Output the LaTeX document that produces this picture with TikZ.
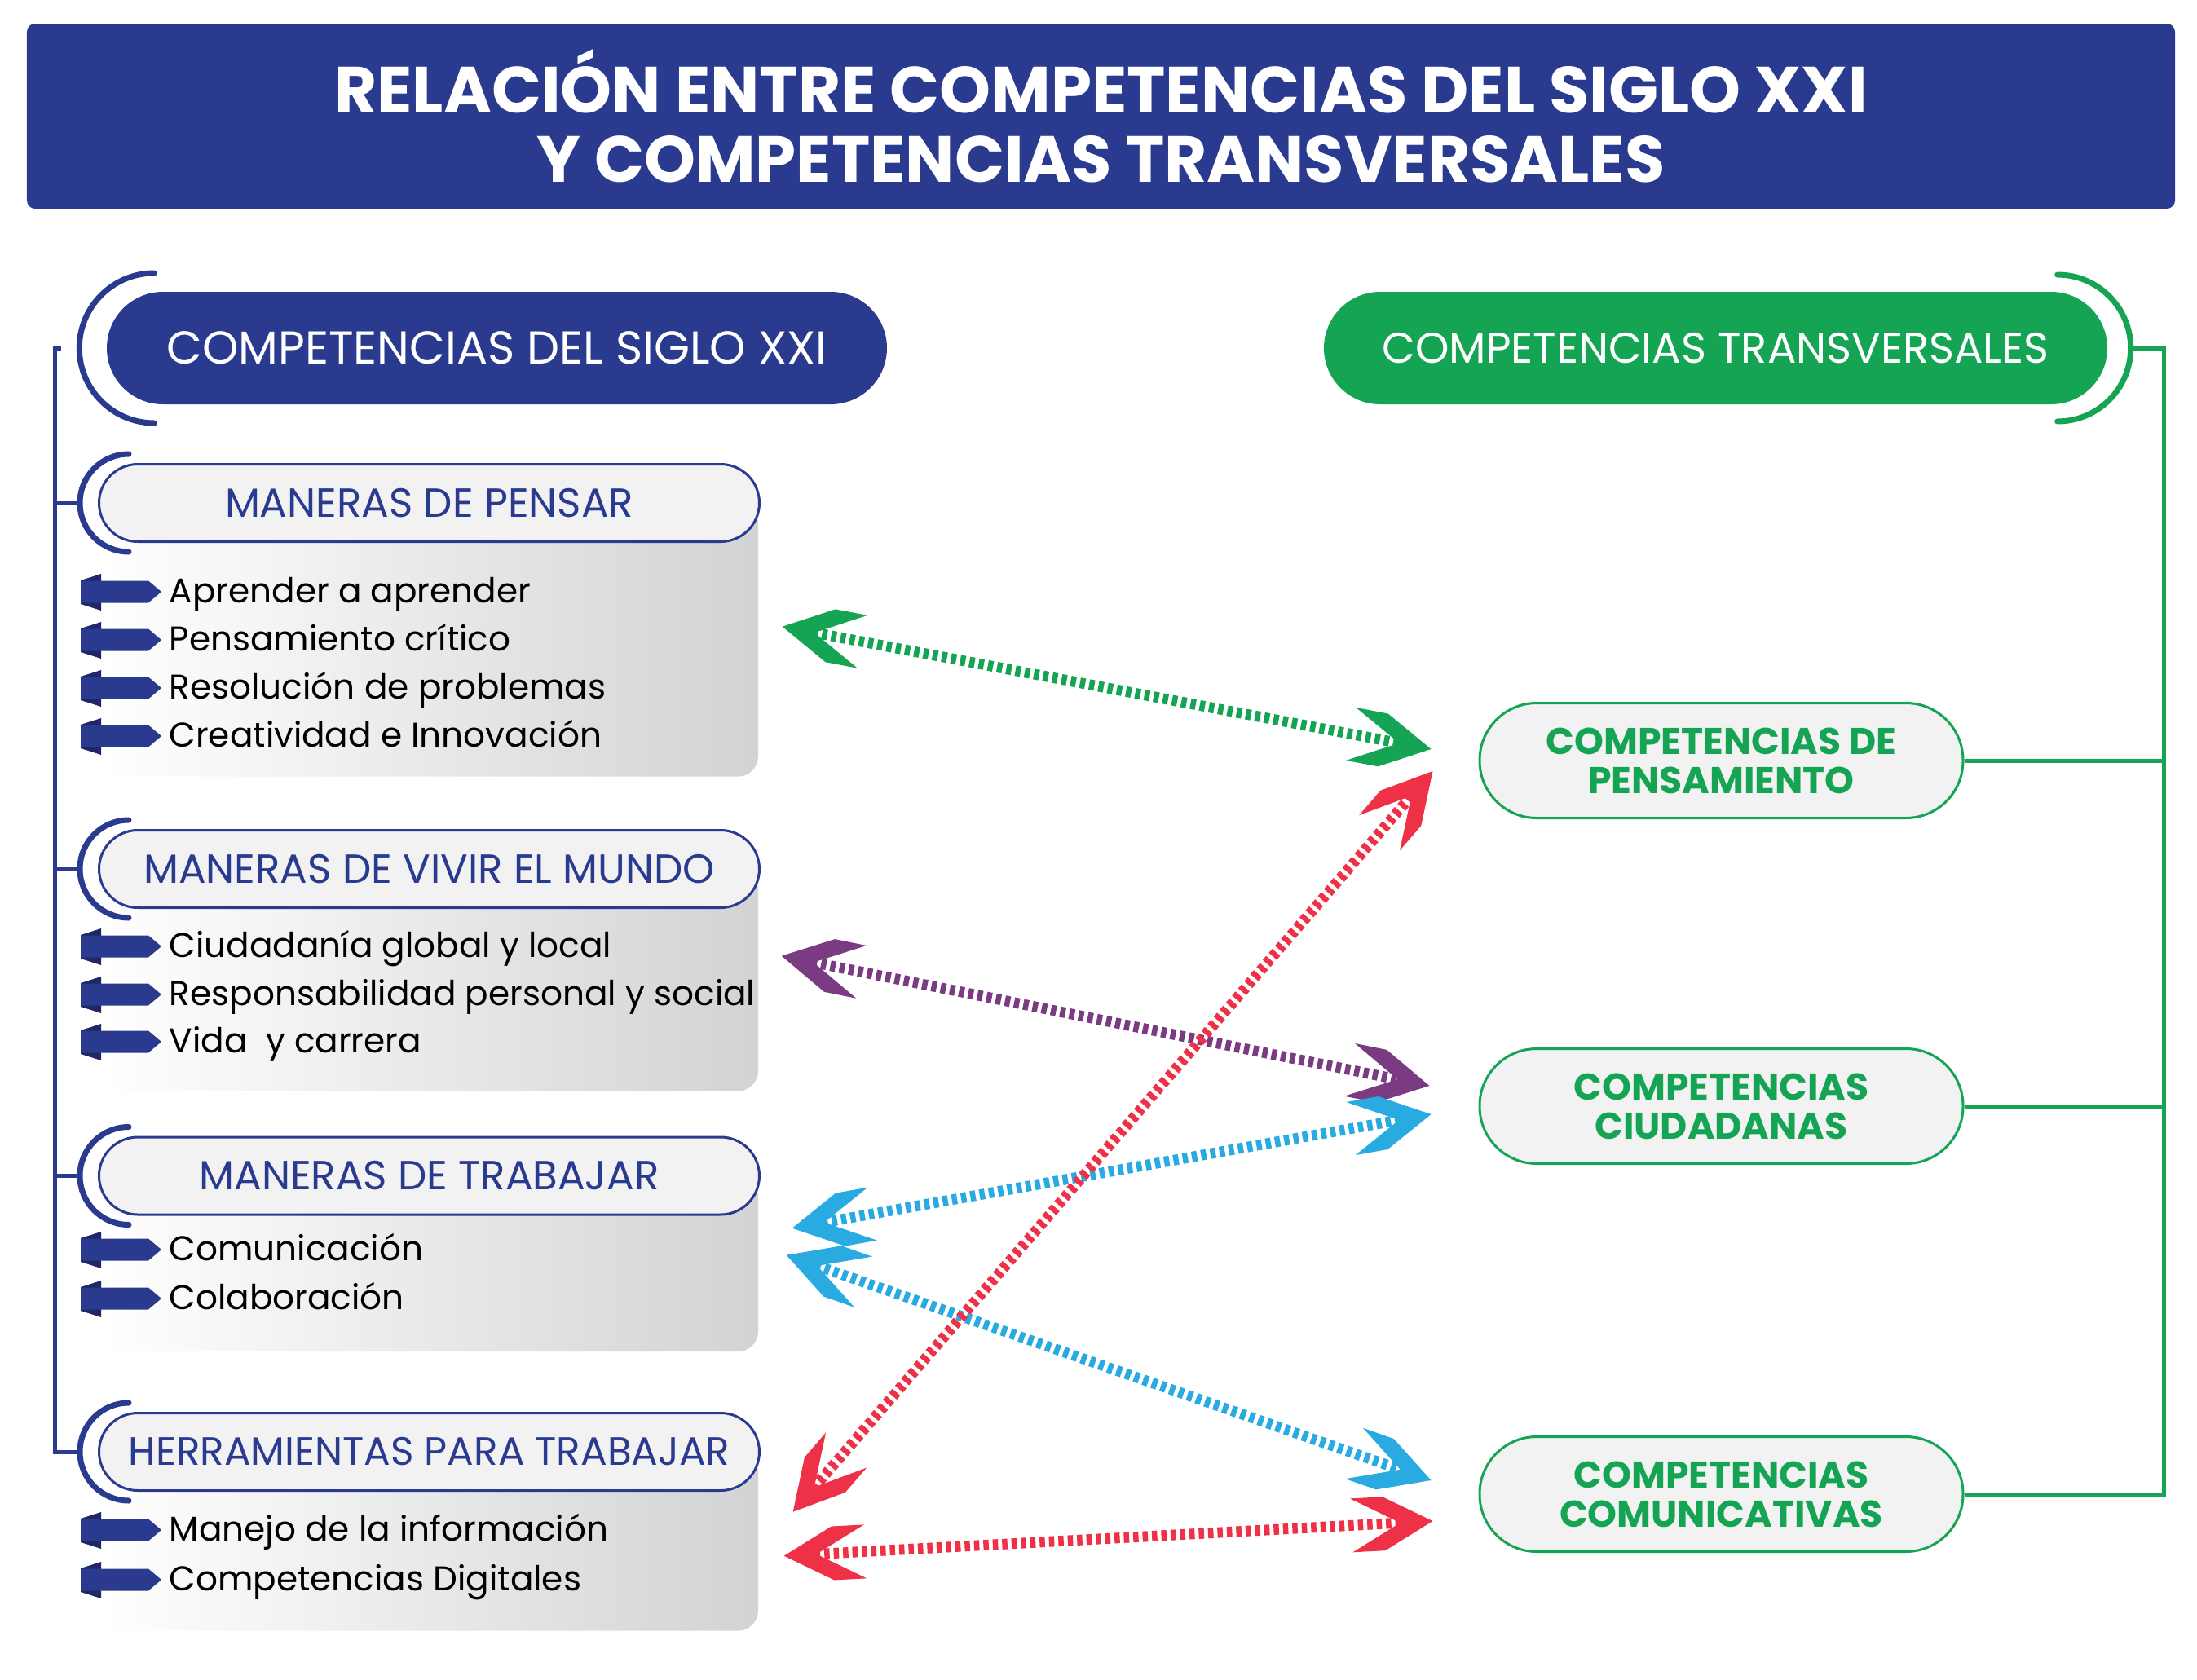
\documentclass[tikz,border=0pt]{standalone}
\usepackage{fontspec}
\setmainfont{Poppins}
\usepackage{tikz}
\usetikzlibrary{arrows.meta, positioning, calc}
\definecolor{navyblue}{HTML}{293A8F}
\definecolor{navydark}{HTML}{1F2766}
\definecolor{tgreen}{HTML}{14A454}
\definecolor{linkpurple}{HTML}{7B3B82}
\definecolor{linkblue}{HTML}{29ABE2}
\definecolor{linkred}{HTML}{EE3147}
\definecolor{pillgray}{HTML}{F2F2F2}
\definecolor{boxgray}{HTML}{D1D3D4}
\pgfdeclarearrow{
    name = Chevron,
    parameters = {\the\pgfarrowlength,\the\pgfarrowwidth},
    setup code = {
        \pgfarrowssettipend{0pt}
        \pgfarrowssetlineend{-.38\pgfarrowlength}
        \pgfarrowssetbackend{-\pgfarrowlength}
        \pgfarrowssetvisualbackend{-.4\pgfarrowlength}
        \pgfarrowshullpoint{0pt}{0pt}
        \pgfarrowsupperhullpoint{-\pgfarrowlength}{.5\pgfarrowwidth}
        \pgfarrowssavethe\pgfarrowlength
        \pgfarrowssavethe\pgfarrowwidth
    },
    drawing code = {
        \pgfpathmoveto{\pgfpointorigin}
        \pgfpathlineto{\pgfqpoint{-.6\pgfarrowlength}{.5\pgfarrowwidth}}
        \pgfpathlineto{\pgfqpoint{-\pgfarrowlength}{.5\pgfarrowwidth}}
        \pgfpathlineto{\pgfqpoint{-.4\pgfarrowlength}{0pt}}
        \pgfpathlineto{\pgfqpoint{-\pgfarrowlength}{-.5\pgfarrowwidth}}
        \pgfpathlineto{\pgfqpoint{-.6\pgfarrowlength}{-.5\pgfarrowwidth}}
        \pgfpathclose
        \pgfusepathqfill
    },
    defaults = {length = 10mm, width = 6.6mm}
}
\tikzset{
    headpill/.style={rectangle, rounded corners=6.9mm, minimum width=9.6cm, minimum height=1.38cm, text=white, font=\fontsize{15}{18}\selectfont},
    catpill/.style={rectangle, draw=navyblue, line width=0.3mm, fill=pillgray, rounded corners=4.75mm, minimum width=8.1cm, minimum height=0.95cm, text=navyblue, font=\fontsize{14.2}{16}\selectfont},
    listbox/.style={rectangle, rounded corners=2.5mm, left color=white, right color=boxgray, minimum width=8.07cm, anchor=north, inner sep=0pt},
    itemtxt/.style={anchor=west, inner sep=0pt, text height=3.5mm, text depth=0.8mm, font=\fontsize{12}{14}\selectfont},
    transpill/.style={rectangle, draw=tgreen, line width=0.3mm, fill=pillgray, rounded corners=7mm, minimum width=5.93cm, minimum height=1.41cm, align=center, text=tgreen, font=\bfseries\fontsize{13}{13.7}\selectfont},
    bracket/.style={line width=0.7mm, line cap=round},
    treeline/.style={line width=0.5mm},
    link/.style={{Chevron[]}-{Chevron[]}, line width=1.3mm, dash pattern=on 0.65mm off 0.5mm},
    tagicon/.pic={
        \fill[navydark] (-0.99,0.14) -- (-0.74,0.22) -- (-0.74,-0.23) -- (-0.99,-0.15) -- cycle;
        \fill[navyblue] (-0.99,0.135) -- (-0.16,0.135) -- (0,0) -- (-0.16,-0.135) -- (-0.99,-0.135) -- cycle;
    }
}
\begin{document}
\begin{tikzpicture}
    \useasboundingbox (0,0) rectangle (26.95,-20.61);
    \node[fill=navyblue, rounded corners=1mm, minimum width=26.35cm, minimum height=2.27cm, text=white, align=center, font=\bfseries\fontsize{22.8}{24.2}\selectfont] (banner) at (13.505,-1.425) {RELACIÓN ENTRE COMPETENCIAS DEL SIGLO XXI\\Y COMPETENCIAS TRANSVERSALES};
    % left column
    \node[headpill, fill=navyblue, minimum width=9.57cm, font=\fontsize{16.1}{18}\selectfont] (hsiglo) at (6.095,-4.27) {COMPETENCIAS DEL SIGLO XXI};
    \draw[bracket, navyblue] ([shift={(0.59,0.92)}]hsiglo.west) arc[start angle=90, end angle=270, radius=0.92];
    \node[listbox, minimum height=3.35cm] (bpensar) at (5.265,-6.17) {};
    \node[listbox, minimum height=2.72cm] (bvivir) at (5.265,-10.66) {};
    \node[listbox, minimum height=2.15cm] (btrab) at (5.265,-14.425) {};
    \node[listbox, minimum height=2.19cm] (bherr) at (5.265,-17.81) {};
    \node[catpill] (mpensar) at (bpensar.north) {MANERAS DE PENSAR};
    \node[catpill] (mvivir) at (bvivir.north) {MANERAS DE VIVIR EL MUNDO};
    \node[catpill] (mtrab) at (btrab.north) {MANERAS DE TRABAJAR};
    \node[catpill, font=\fontsize{13.8}{16}\selectfont] (mherr) at (bherr.north) {HERRAMIENTAS PARA TRABAJAR};
    \foreach \m in {mpensar,mvivir,mtrab,mherr} {
        \draw[bracket, navyblue] ([shift={(0.38,0.6)}]\m.west) arc[start angle=90, end angle=270, radius=0.6];
    }
    \coordinate (trunk) at (0.67,-4.27);
    \draw[treeline, navyblue] ([xshift=0.8mm]trunk) -- (trunk) -- (trunk |- mherr.west) -- ([xshift=-2.2mm]mherr.west);
    \foreach \m in {mpensar,mvivir,mtrab} {
        \draw[treeline, navyblue] (trunk |- \m.west) -- ([xshift=-2.2mm]\m.west);
    }
    \foreach \t/\y [count=\i] in {Aprender a aprender/7.26, Pensamiento crítico/7.85, Resolución de problemas/8.44, Creatividad e Innovación/9.03,
        Ciudadanía global y local/11.61, Responsabilidad personal y social/12.20, Vida~~y carrera/12.78,
        Comunicación/15.33, Colaboración/15.93,
        Manejo de la información/18.77, Competencias Digitales/19.38} {
        \node[itemtxt] (it\i) at (2.07,-\y) {\t};
        \pic at ([xshift=-0.9mm]it\i.west) {tagicon};
    }
    % right column
    \node[headpill, fill=tgreen, minimum width=9.61cm] (htrans) at (21.045,-4.27) {COMPETENCIAS TRANSVERSALES};
    \draw[bracket, tgreen] ([shift={(-0.62,0.9)}]htrans.east) arc[start angle=90, end angle=-90, radius=0.9];
    \node[transpill] (cpens) at (21.115,-9.33) {COMPETENCIAS DE\\PENSAMIENTO};
    \node[transpill] (cciud) at (21.115,-13.57) {COMPETENCIAS\\CIUDADANAS};
    \node[transpill] (ccomu) at (21.115,-18.33) {COMPETENCIAS\\COMUNICATIVAS};
    \coordinate (gtrunk) at (26.54,-4.27);
    \draw[treeline, tgreen] ([xshift=2.8mm]htrans.east) -- (gtrunk) -- (gtrunk |- ccomu.east) -- (ccomu.east);
    \draw[treeline, tgreen] (cpens.east) -- (gtrunk |- cpens.east);
    \draw[treeline, tgreen] (cciud.east) -- (gtrunk |- cciud.east);
    % relations
    \draw[link, color=tgreen] ([shift={(0.29,0.165)}]bpensar.east) -- ([shift={(-0.58,0.14)}]cpens.west);
    \draw[link, color=linkpurple] ([shift={(0.28,0.30)}]bvivir.east) -- ([shift={(-0.60,0.25)}]cciud.west);
    \draw[link, color=linkblue] ([shift={(0.41,0.44)}]btrab.east) -- ([shift={(-0.58,-0.10)}]cciud.west);
    \draw[link, color=linkblue] ([shift={(0.34,0.11)}]btrab.east) -- ([shift={(-0.58,0.17)}]ccomu.west);
    \draw[link, color=linkred] ([shift={(0.42,0.365)}]bherr.east) -- ([shift={(-0.56,-0.13)}]cpens.west);
    \draw[link, color=linkred] ([shift={(0.31,-0.175)}]bherr.east) -- ([shift={(-0.56,-0.33)}]ccomu.west);
\end{tikzpicture}
\end{document}
